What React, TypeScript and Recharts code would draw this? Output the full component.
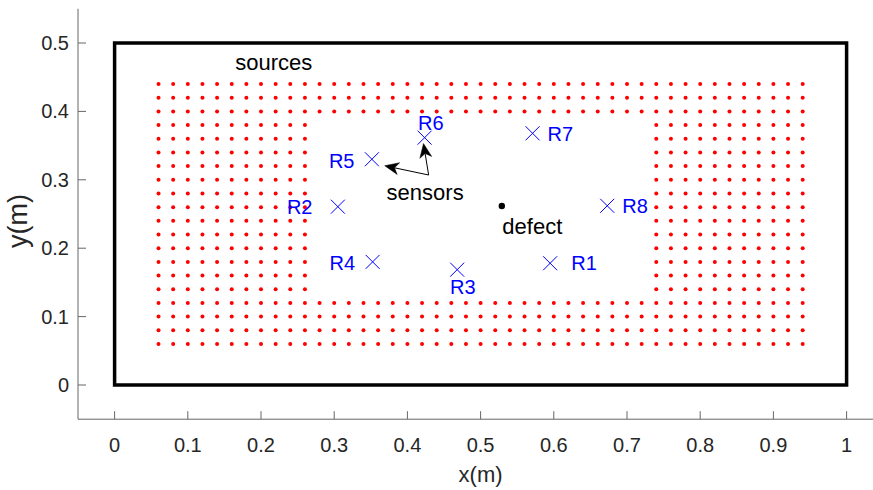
import React from 'react';
import { ScatterChart, Scatter, XAxis, YAxis, ReferenceArea, ReferenceLine } from 'recharts';

const xTicks = [0, 0.1, 0.2, 0.3, 0.4, 0.5, 0.6, 0.7, 0.8, 0.9, 1];
const yTicks = [0, 0.1, 0.2, 0.3, 0.4, 0.5];

// source grid
const srcColsAll = [0.06, 0.08, 0.1, 0.12, 0.14, 0.16, 0.18, 0.2, 0.22, 0.24, 0.26, 0.28, 0.3, 0.32, 0.34, 0.36, 0.38, 0.4, 0.42, 0.44, 0.46, 0.48, 0.5, 0.52, 0.54, 0.56, 0.58, 0.6, 0.62, 0.64, 0.66, 0.68, 0.7, 0.72, 0.74, 0.76, 0.78, 0.8, 0.82, 0.84, 0.86, 0.88, 0.9, 0.92, 0.94];
const srcColsSide = [0.06, 0.08, 0.1, 0.12, 0.14, 0.16, 0.18, 0.2, 0.22, 0.24, 0.26, 0.74, 0.76, 0.78, 0.8, 0.82, 0.84, 0.86, 0.88, 0.9, 0.92, 0.94];
const srcRowsFull = [0.06, 0.08, 0.1, 0.12, 0.4, 0.42, 0.44];
const srcRowsSide = [0.14, 0.16, 0.18, 0.2, 0.22, 0.24, 0.26, 0.28, 0.3, 0.32, 0.34, 0.36, 0.38];

const sensorNames = ['R1', 'R2', 'R3', 'R4', 'R5', 'R6', 'R7', 'R8'];
const sensorX = [0.595, 0.305, 0.468, 0.3525, 0.3515, 0.4235, 0.571, 0.673];
const sensorY = [0.178, 0.2607, 0.1686, 0.18, 0.33, 0.3616, 0.368, 0.262];
const sensorLabelX = [0.624, 0.2354, 0.4583, 0.2935, 0.2928, 0.4144, 0.5915, 0.6935];
const sensorLabelY = [0.178, 0.26, 0.143, 0.178, 0.3275, 0.3835, 0.367, 0.262];

const defectPoint = [{ x: 0.529, y: 0.2617 }];

const noteTexts = ['sources', 'sensors', 'defect'];
const noteX = [0.1649, 0.3716, 0.5297];
const noteY = [0.4693, 0.2792, 0.2295];

const arrowTail = { x: 0.429, y: 0.307 };
const arrowHeadX = [0.369, 0.422];
const arrowHeadY = [0.3206, 0.353];

const plate = { x1: 0, x2: 1, y1: 0, y2: 0.5 };

const sources = [
  ...srcRowsFull.flatMap((y) => srcColsAll.map((x) => ({ x, y }))),
  ...srcRowsSide.flatMap((y) => srcColsSide.map((x) => ({ x, y }))),
];
const sensors = sensorNames.map((n, i) => ({ x: sensorX[i], y: sensorY[i], name: n }));
const sensorLabels = sensorNames.map((n, i) => ({ x: sensorLabelX[i], y: sensorLabelY[i], label: n }));
const notes = noteTexts.map((t, i) => ({ x: noteX[i], y: noteY[i], label: t }));

const FONT = '"Liberation Sans", Arial, Helvetica, sans-serif';
const AXIS_COLOR = '#666';
const TEXT_COLOR = '#262626';

const XTick = (props: any) => {
  const { x, y, payload } = props;
  return (
    <g>
      <line x1={x} y1={y} x2={x} y2={y - 8} stroke={AXIS_COLOR} strokeWidth={1} />
      <text x={x} y={y + 33} textAnchor="middle" fontFamily={FONT} fontSize={20} fill={TEXT_COLOR}>
        {String(payload.value)}
      </text>
    </g>
  );
};

const YTick = (props: any) => {
  const { x, y, payload } = props;
  return (
    <g>
      <line x1={x} y1={y} x2={x + 8} y2={y} stroke={AXIS_COLOR} strokeWidth={1} />
      <text x={x - 9} y={y + 7} textAnchor="end" fontFamily={FONT} fontSize={20} fill={TEXT_COLOR}>
        {String(payload.value)}
      </text>
    </g>
  );
};

const XLabel = (props: any) => {
  const vb = props.viewBox || {};
  return (
    <text x={vb.x + vb.width / 2} y={482} textAnchor="middle" fontFamily={FONT} fontSize={22} fill={TEXT_COLOR}>
      x(m)
    </text>
  );
};

const YLabel = (props: any) => {
  const vb = props.viewBox || {};
  const cx = 26.6;
  const cy = vb.y + vb.height / 2 + 7;
  return (
    <text x={cx} y={cy} transform={`rotate(-90, ${cx}, ${cy})`} textAnchor="middle" fontFamily={FONT} fontSize={27} fill={TEXT_COLOR}>
      y(m)
    </text>
  );
};

const RedDot = (props: any) => <circle cx={props.cx} cy={props.cy} r={2} fill="#ff0000" />;
const BlackDot = (props: any) => <circle cx={props.cx} cy={props.cy} r={3.2} fill="#000" />;
const XMark = (props: any) => {
  const { cx, cy } = props;
  const s = 7;
  return (
    <g stroke="#0000ff" strokeWidth={1}>
      <line x1={cx - s} y1={cy - s} x2={cx + s} y2={cy + s} />
      <line x1={cx - s} y1={cy + s} x2={cx + s} y2={cy - s} />
    </g>
  );
};
const BlueText = (props: any) => (
  <text x={props.cx} y={props.cy + 7} fontFamily={FONT} fontSize={20} fill="#0000ff">
    {props.payload.label}
  </text>
);
const BlackText = (props: any) => (
  <text x={props.cx} y={props.cy + 6} fontFamily={FONT} fontSize={22} fill="#000">
    {props.payload.label}
  </text>
);

const ArrowShape = (props: any) => {
  const { x1, y1, x2, y2 } = props;
  const dx = x2 - x1;
  const dy = y2 - y1;
  const len = Math.sqrt(dx * dx + dy * dy) || 1;
  const ux = dx / len;
  const uy = dy / len;
  const px = -uy;
  const py = ux;
  const L = 14;
  const W = 6;
  const N = 10;
  const bx = x2 - ux * L;
  const by = y2 - uy * L;
  const nx = x2 - ux * N;
  const ny = y2 - uy * N;
  const pts = `${x2},${y2} ${bx + px * W},${by + py * W} ${nx},${ny} ${bx - px * W},${by - py * W}`;
  return (
    <g>
      <line x1={x1} y1={y1} x2={nx} y2={ny} stroke="#000" strokeWidth={1} />
      <polygon points={pts} fill="#000" stroke="#000" strokeWidth={0.5} />
    </g>
  );
};

export default function App() {
  return (
    <div style={{ position: 'absolute', left: 0, top: 0, width: 873, height: 490, overflow: 'hidden', background: '#fff' }}>
      <ScatterChart width={900} height={490} margin={{ top: 8.8, right: 16.8, bottom: 0.8, left: 8 }}>
        <XAxis
          type="number"
          dataKey="x"
          domain={[-0.05, 1.05]}
          ticks={xTicks}
          interval={0}
          allowDataOverflow
          height={70}
          tickSize={0}
          tickMargin={0}
          tickLine={false}
          tick={XTick}
          axisLine={{ stroke: AXIS_COLOR, strokeWidth: 1 }}
          label={{ content: XLabel }}
        />
        <YAxis
          type="number"
          dataKey="y"
          domain={[-0.05, 0.55]}
          ticks={yTicks}
          interval={0}
          allowDataOverflow
          width={70}
          tickSize={0}
          tickMargin={0}
          tickLine={false}
          tick={YTick}
          axisLine={{ stroke: AXIS_COLOR, strokeWidth: 1 }}
          label={{ content: YLabel }}
        />
        <ReferenceArea x1={plate.x1} x2={plate.x2} y1={plate.y1} y2={plate.y2} fill="none" fillOpacity={0} stroke="#000" strokeWidth={3.5} ifOverflow="visible" />
        <Scatter data={sources} shape={RedDot} isAnimationActive={false} />
        <Scatter data={sensors} shape={XMark} isAnimationActive={false} />
        <Scatter data={sensorLabels} shape={BlueText} isAnimationActive={false} />
        <Scatter data={defectPoint} shape={BlackDot} isAnimationActive={false} />
        <Scatter data={notes} shape={BlackText} isAnimationActive={false} />
        {arrowHeadX.map((hx, i) => (
          <ReferenceLine
            key={i}
            segment={[{ x: arrowTail.x, y: arrowTail.y }, { x: hx, y: arrowHeadY[i] }]}
            shape={ArrowShape}
            ifOverflow="visible"
          />
        ))}
      </ScatterChart>
    </div>
  );
}
